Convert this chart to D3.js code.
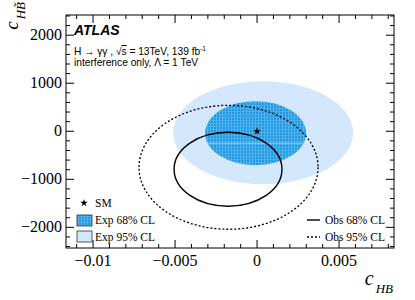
<!DOCTYPE html>
<html>
<head>
<meta charset="utf-8">
<script src="https://cdn.jsdelivr.net/npm/d3@7"></script>
<style>
  body { margin: 0; background: #fff; }
  svg { display: block; }
  .tick-label { font-family: "Liberation Serif", "Times New Roman", serif; font-size: 16px; fill: #000; }
  .legend-text { font-family: "Liberation Serif", "Times New Roman", serif; font-size: 11.5px; fill: #000; }
  .info { font-family: "Liberation Sans", Arial, sans-serif; font-size: 10.2px; fill: #000; }
</style>
</head>
<body>
<svg id="chart"></svg>
<script>
// Canvas
const svgWidth = 415;
const svgHeight = 300;

// Axis ranges and ticks
const xDomain = [-0.01165, 0.00835];
const yDomain = [-2430, 2420];
const xTicks = [-0.01, -0.005, 0, 0.005];
const yTicks = [-2000, -1000, 0, 1000, 2000];

// Contours (ellipses): centre and half-axes in data units
const contourNames = ["Exp 95% CL", "Exp 68% CL", "Obs 95% CL", "Obs 68% CL"];
const contourCx = [0.00037, -0.00009, -0.00174, -0.00177];
const contourCy = [-30, -40, -750, -790];
const contourRx = [0.00549, 0.00308, 0.00546, 0.00329];
const contourRy = [1073, 667, 1290, 770];

// Standard Model point
const smPoint = [0, 0];

// Plot frame
const margin = { left: 66, right: 21, top: 15, bottom: 52 };
const plotW = svgWidth - margin.left - margin.right;
const plotH = svgHeight - margin.top - margin.bottom;

const svg = d3.select("#chart")
  .attr("width", svgWidth)
  .attr("height", svgHeight);

const x = d3.scaleLinear().domain(xDomain).range([margin.left, margin.left + plotW]);
const y = d3.scaleLinear().domain(yDomain).range([margin.top + plotH, margin.top]);

// Hatched fill for the expected 68% region
const defs = svg.append("defs");
const pat = defs.append("pattern")
  .attr("id", "exp68")
  .attr("patternUnits", "userSpaceOnUse")
  .attr("width", 3).attr("height", 3);
pat.append("rect").attr("width", 3).attr("height", 3).attr("fill", "#2199e2");
pat.append("rect").attr("x", 0).attr("y", 0).attr("width", 1).attr("height", 3).attr("fill", "#58b6ee");
pat.append("rect").attr("x", 0).attr("y", 0).attr("width", 3).attr("height", 1).attr("fill", "#4aaeeb");

defs.append("clipPath").attr("id", "plotClip")
  .append("rect")
  .attr("x", margin.left).attr("y", margin.top)
  .attr("width", plotW).attr("height", plotH);

const plot = svg.append("g").attr("clip-path", "url(#plotClip)");

function ellipseAttrs(sel, i) {
  sel.attr("cx", x(contourCx[i]))
    .attr("cy", y(contourCy[i]))
    .attr("rx", x(contourCx[i] + contourRx[i]) - x(contourCx[i]))
    .attr("ry", y(contourCy[i]) - y(contourCy[i] + contourRy[i]));
  return sel;
}

// Expected 95%
plot.append("ellipse").call(ellipseAttrs, 0).attr("fill", "#d3e8fc");
// Expected 68%
plot.append("ellipse").call(ellipseAttrs, 1).attr("fill", "url(#exp68)");

// faint light streak across the 68% region (as in the original rendering)
defs.append("clipPath").attr("id", "exp68Clip")
  .append("ellipse").call(ellipseAttrs, 1);
plot.append("line")
  .attr("clip-path", "url(#exp68Clip)")
  .attr("x1", x(contourCx[1] - contourRx[1])).attr("x2", x(contourCx[1] + contourRx[1]))
  .attr("y1", y(-250)).attr("y2", y(-250))
  .attr("stroke", "#8fd0f5").attr("stroke-width", 1.2);

// Observed 95% (dotted) and 68% (solid)
plot.append("ellipse").call(ellipseAttrs, 2)
  .attr("fill", "none").attr("stroke", "#000").attr("stroke-width", 1.3)
  .attr("stroke-dasharray", "2,2");
plot.append("ellipse").call(ellipseAttrs, 3)
  .attr("fill", "none").attr("stroke", "#000").attr("stroke-width", 1.4);

// SM star
const star = d3.symbol().type(d3.symbolStar).size(18);
plot.append("path")
  .attr("d", star())
  .attr("transform", `translate(${x(smPoint[0])},${y(smPoint[1])})`)
  .attr("fill", "#000");

// Frame
svg.append("rect")
  .attr("x", margin.left).attr("y", margin.top)
  .attr("width", plotW).attr("height", plotH)
  .attr("fill", "none").attr("stroke", "#000").attr("stroke-width", 1);

// Ticks on all four sides, pointing inward
const xMinor = d3.range(-0.011, 0.0085, 0.001).filter(v => !xTicks.some(t => Math.abs(t - v) < 1e-9));
const yMinor = d3.range(-2400, 2401, 200).filter(v => !yTicks.includes(v));
const ticks = svg.append("g").attr("stroke", "#000").attr("stroke-width", 1);
const frameBottom = margin.top + plotH;
const frameTop = margin.top;
const frameLeft = margin.left;
const frameRight = margin.left + plotW;

xTicks.forEach(v => {
  ticks.append("line").attr("x1", x(v)).attr("x2", x(v)).attr("y1", frameBottom).attr("y2", frameBottom - 8);
  ticks.append("line").attr("x1", x(v)).attr("x2", x(v)).attr("y1", frameTop).attr("y2", frameTop + 8);
});
xMinor.forEach(v => {
  ticks.append("line").attr("x1", x(v)).attr("x2", x(v)).attr("y1", frameBottom).attr("y2", frameBottom - 4);
  ticks.append("line").attr("x1", x(v)).attr("x2", x(v)).attr("y1", frameTop).attr("y2", frameTop + 4);
});
yTicks.forEach(v => {
  ticks.append("line").attr("x1", frameLeft).attr("x2", frameLeft + 8).attr("y1", y(v)).attr("y2", y(v));
  ticks.append("line").attr("x1", frameRight).attr("x2", frameRight - 8).attr("y1", y(v)).attr("y2", y(v));
});
yMinor.forEach(v => {
  ticks.append("line").attr("x1", frameLeft).attr("x2", frameLeft + 4).attr("y1", y(v)).attr("y2", y(v));
  ticks.append("line").attr("x1", frameRight).attr("x2", frameRight - 4).attr("y1", y(v)).attr("y2", y(v));
});

// Tick labels
const fmtX = d3.format("~g");
const fmtY = d3.format("d");
svg.append("g").selectAll("text").data(xTicks).join("text")
  .attr("class", "tick-label")
  .attr("x", d => x(d)).attr("y", frameBottom + 18)
  .attr("text-anchor", "middle")
  .text(d => fmtX(d));
svg.append("g").selectAll("text").data(yTicks).join("text")
  .attr("class", "tick-label")
  .attr("x", frameLeft - 4).attr("y", d => y(d) + 5)
  .attr("text-anchor", "end")
  .text(d => fmtY(d));

// Axis titles
const xt = svg.append("text")
  .attr("x", 393).attr("y", 285)
  .attr("text-anchor", "end")
  .attr("font-family", "Liberation Serif, serif")
  .attr("font-style", "italic")
  .attr("font-size", 20);
xt.append("tspan").text("c");
xt.append("tspan").attr("font-size", 13).attr("dy", 8).attr("dx", 2).text("HB");

const yt = svg.append("text")
  .attr("transform", "translate(18,2) rotate(-90)")
  .attr("text-anchor", "end")
  .attr("font-family", "Liberation Serif, serif")
  .attr("font-style", "italic")
  .attr("font-size", 19);
yt.append("tspan").text("c");
yt.append("tspan").attr("font-size", 13).attr("dy", 7).attr("dx", 2).text("HB\u0303");

// ATLAS label and info
svg.append("text")
  .attr("x", 74).attr("y", 35)
  .attr("font-family", "Liberation Sans, Arial, sans-serif")
  .attr("font-weight", "bold").attr("font-style", "italic")
  .attr("font-size", 14)
  .text("ATLAS");

const info1 = svg.append("text").attr("class", "info").attr("x", 74).attr("y", 55);
info1.append("tspan").text("H \u2192 \u03b3\u03b3 , \u221a");
info1.append("tspan").attr("text-decoration", "overline").text("s");
info1.append("tspan").text(" = 13TeV, 139 fb");
info1.append("tspan").attr("font-size", 6.5).attr("dy", -4).text("-1");

svg.append("text").attr("class", "info").attr("x", 74).attr("y", 66)
  .text("interference only,  \u039b = 1 TeV");

// Legend (left column)
const legLeft = svg.append("g");
legLeft.append("path")
  .attr("d", star())
  .attr("transform", "translate(84,203)")
  .attr("fill", "#000");
legLeft.append("text").attr("class", "legend-text").attr("x", 95).attr("y", 207).text("SM");

legLeft.append("rect")
  .attr("x", 77).attr("y", 215).attr("width", 15).attr("height", 11)
  .attr("fill", "url(#exp68)").attr("stroke", "#333").attr("stroke-width", 0.8);
legLeft.append("text").attr("class", "legend-text").attr("x", 95).attr("y", 224).text(contourNames[1]);

legLeft.append("rect")
  .attr("x", 77).attr("y", 231).attr("width", 15).attr("height", 11)
  .attr("fill", "#d3e8fc").attr("stroke", "#333").attr("stroke-width", 0.8);
legLeft.append("text").attr("class", "legend-text").attr("x", 95).attr("y", 241).text(contourNames[0]);

// Legend (right column)
const legRight = svg.append("g");
legRight.append("line")
  .attr("x1", 307).attr("x2", 320).attr("y1", 220).attr("y2", 220)
  .attr("stroke", "#000").attr("stroke-width", 1.4);
legRight.append("text").attr("class", "legend-text").attr("x", 385).attr("y", 224)
  .attr("text-anchor", "end").text(contourNames[3]);
legRight.append("line")
  .attr("x1", 307).attr("x2", 320).attr("y1", 237).attr("y2", 237)
  .attr("stroke", "#000").attr("stroke-width", 1.3).attr("stroke-dasharray", "2,2");
legRight.append("text").attr("class", "legend-text").attr("x", 385).attr("y", 241)
  .attr("text-anchor", "end").text(contourNames[2]);
</script>
</body>
</html>
